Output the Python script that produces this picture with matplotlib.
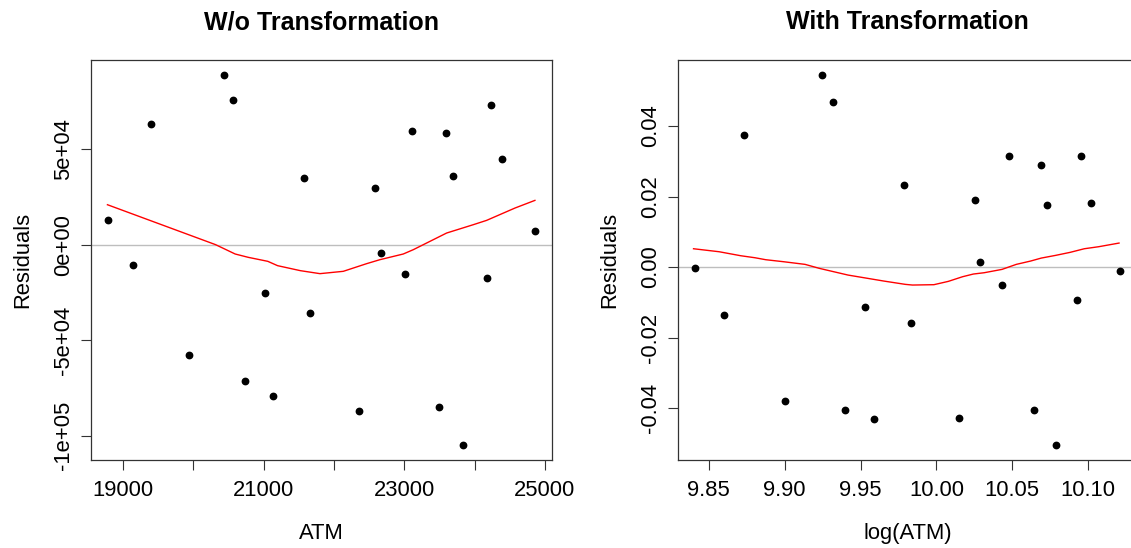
import matplotlib
matplotlib.use("Agg")
import matplotlib.pyplot as plt
import numpy as np

# residuals from the untransformed model
atm = [18786, 19143, 19397, 19937, 20431, 20569, 20737, 21017, 21134, 21567,
       21664, 22352, 22586, 22663, 23004, 23106, 23493, 23590, 23687, 23834,
       24171, 24232, 24390, 24858]
resid_raw = [13066, -10801, 63240, -57491, 88850, 75436, -71429, -25261, -79268, 34843,
             -35889, -87108, 29617, -4355, -15331, 59233, -84843, 58188, 36063, -104878,
             -17422, 72822, 44774, 6969]
# residuals after log transform
resid_log = [-0.00038, -0.0135, 0.0373, -0.0380, 0.0545, 0.0467, -0.0406, -0.0113, -0.0431, 0.0234,
             -0.0159, -0.0428, 0.0189, 0.0013, -0.0050, 0.0315, -0.0406, 0.0288, 0.0176, -0.0505,
             -0.0092, 0.0315, 0.0182, -0.0011]

# smoother (red) lines
smooth_raw_x = [18777, 20316, 20594, 20780, 21058, 21197, 21521, 21800, 22132, 22464,
                22654, 22985, 23128, 23270, 23602, 23981, 24171, 24574, 24858]
smooth_raw_y = [20904, 0, -4878, -6620, -8710, -10975, -13588, -15155, -13936, -9929,
                -7839, -4878, -2613, 0, 6097, 10452, 12717, 19162, 23171]
smooth_log_x = [9.8399, 9.8568, 9.871, 9.8804, 9.8875, 9.8993, 9.9134, 9.9229, 9.9417, 9.9535,
                9.9653, 9.9795, 9.9842, 9.9983, 10.0078, 10.0172, 10.0243, 10.0314, 10.0432, 10.0526,
                10.0620, 10.0691, 10.0785, 10.0880, 10.0974, 10.1068, 10.1203]
smooth_log_y = [0.00519, 0.00434, 0.00321, 0.00264, 0.00208, 0.00151, 0.00076, -0.00038, -0.00227, -0.00312,
                -0.00397, -0.00491, -0.0051, -0.0050, -0.00406, -0.00274, -0.00198, -0.00161, -0.00066, 0.00076,
                0.0017, 0.00255, 0.00331, 0.00416, 0.00519, 0.00576, 0.0068]

raw_xticks = [19000, 20000, 21000, 22000, 23000, 24000, 25000]
raw_xlabels = ["19000", "", "21000", "", "23000", "", "25000"]
raw_yticks = [50000, 0, -50000, -100000]
raw_ylabels = ["5e+04", "0e+00", "-5e+04", "-1e+05"]
log_xticks = [9.85, 9.90, 9.95, 10.00, 10.05, 10.10]
log_yticks = [0.04, 0.02, 0.00, -0.02, -0.04]

plt.rcParams["font.family"] = ["Liberation Sans", "DejaVu Sans"]
plt.rcParams["axes.unicode_minus"] = False


def r_limits(vals):
    lo, hi = min(vals), max(vals)
    ext = 0.04 * (hi - lo)
    return lo - ext, hi + ext


def draw_panel(ax, x, y, sx, sy, title, xlabel, xticks, xlabels, yticks, ylabels):
    ax.axhline(0, color="#bebebe", lw=1.0, zorder=1)
    ax.plot(x, y, "o", color="black", ms=4.6, zorder=3)
    ax.plot(sx, sy, color="red", lw=1.0, zorder=2)
    ax.set_xlim(*r_limits(x))
    ax.set_ylim(*r_limits(y))
    ax.set_xticks(xticks)
    ax.set_xticklabels(xlabels)
    ax.set_yticks(yticks)
    ax.set_yticklabels(ylabels, rotation=90, va="center")
    ax.tick_params(length=7.2, width=0.8, labelsize=15.8, color="#333333")
    ax.tick_params(axis="x", pad=7)
    ax.tick_params(axis="y", pad=5)
    for sp in ax.spines.values():
        sp.set_linewidth(0.9)
        sp.set_color("#333333")
    ax.set_title(title, fontsize=18, fontweight="bold", pad=22)
    ax.set_xlabel(xlabel, fontsize=15.8, labelpad=16)
    ax.set_ylabel("Residuals", fontsize=15.8, labelpad=14)


fig = plt.figure(figsize=(11.31, 5.48), dpi=100)
ax1 = fig.add_axes([91 / 1131, 1 - 460 / 548, 461 / 1131, 400 / 548])
ax2 = fig.add_axes([678 / 1131, 1 - 460 / 548, 459 / 1131, 400 / 548])

draw_panel(ax1, atm, resid_raw, smooth_raw_x, smooth_raw_y, "W/o Transformation", "ATM",
           raw_xticks, raw_xlabels, raw_yticks, raw_ylabels)
log_atm = np.log(atm)
draw_panel(ax2, log_atm, resid_log, smooth_log_x, smooth_log_y, "With Transformation", "log(ATM)",
           log_xticks, [f"{v:.2f}" for v in log_xticks], log_yticks, [f"{v:.2f}" for v in log_yticks])

fig.savefig("out.png", dpi=100)
